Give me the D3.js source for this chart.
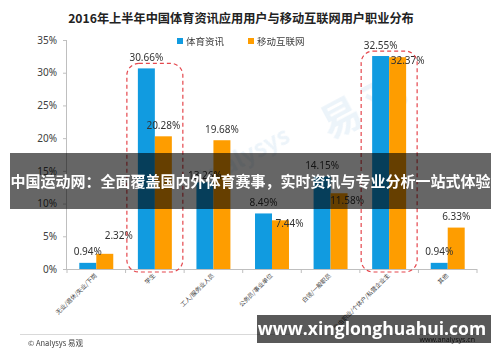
<!DOCTYPE html>
<html>
<head>
<meta charset="utf-8">
<script src="https://cdn.jsdelivr.net/npm/d3@7"></script>
<style>
  body { margin: 0; background: #fff; }
  svg { display: block; font-family: "Noto Sans", "Noto Sans CJK SC", sans-serif; }
</style>
</head>
<body>
<div id="chart"></div>
<script>
// data
const categories = ['无业/退休/失业/下岗', '学生', '工人/服务业人员', '公务员/事业单位', '白领/一般职员', '自由职业/个体户/私营企业主', '其他'];
const seriesNames = ['体育资讯', '移动互联网'];
const sportsNews = [0.94, 30.66, 13.26, 8.49, 14.15, 32.55, 0.94];
const mobileNet = [2.32, 20.28, 19.68, 7.44, 11.58, 32.37, 6.33];
const yTicks = [0, 5, 10, 15, 20, 25, 30, 35];
const highlighted = ['学生', '自由职业/个体户/私营企业主'];

// label nudges (layout only), [dx, dy] per bar
const blueNudge = [[0, 0], [0, 0], [0, 4], [0, 0], [0, 0], [0, 0], [0, 0]];
const orangeNudge = [[14, -7], [0, 0], [0, 0], [9, 14], [8, 18], [10, 14], [0, 0]];

const colors = ['#119be0', '#fe9d00'];
const W = 500, H = 362;

const svg = d3.select('#chart').append('svg')
    .attr('width', W).attr('height', H);

// title
svg.append('text')
    .attr('x', 241).attr('y', 22.5)
    .attr('text-anchor', 'middle')
    .attr('font-size', 12.2).attr('font-weight', 'bold')
    .attr('fill', '#222')
    .attr('font-family', '"Noto Sans CJK SC", sans-serif')
    .text('2016年上半年中国体育资讯应用用户与移动互联网用户职业分布');

// scales
const x0 = d3.scaleBand().domain(categories).range([67, 477])
    .paddingInner(0.42).paddingOuter(0.21);
const x1 = d3.scaleBand().domain(seriesNames).range([0, x0.bandwidth()]);
const y = d3.scaleLinear().domain([0, 35]).range([269, 40]);

// watermark
const wm = svg.append('g').attr('opacity', 0.22).attr('fill', '#a9cbe6')
    .attr('font-family', '"Noto Sans CJK SC", sans-serif');
wm.append('text').attr('transform', 'translate(330,140) rotate(-28)')
    .attr('font-size', 40).attr('font-weight', 'bold').text('易 观');
wm.append('text').attr('transform', 'translate(200,190) rotate(-28)')
    .attr('font-size', 24).attr('font-weight', 'bold').text('Analysys');

// y axis
const yAxis = svg.append('g')
    .attr('transform', `translate(${x0.range()[0]},0)`)
    .call(d3.axisLeft(y).tickValues(yTicks).tickSize(4).tickPadding(6)
        .tickFormat(d => d + '%'));
yAxis.selectAll('path, line').attr('stroke', '#bfbfbf');
yAxis.selectAll('text').attr('font-size', 10).attr('fill', '#404040')
    .attr('font-family', '"Noto Sans", sans-serif');
yAxis.select('.domain').attr('d', `M-0.5,${y(35)}V${y(0)}`);

// x axis with ticks at band boundaries
const step = x0.step();
const bounds = categories.map(c => x0(c) - step * x0.paddingInner() / 2);
bounds.push(x0.range()[1]);
const xAxis = svg.append('g');
xAxis.append('line')
    .attr('x1', x0.range()[0]).attr('x2', x0.range()[1])
    .attr('y1', y(0) + 0.5).attr('y2', y(0) + 0.5)
    .attr('stroke', '#bfbfbf');
xAxis.selectAll('.bt').data(bounds).join('line')
    .attr('x1', d => d).attr('x2', d => d)
    .attr('y1', y(0)).attr('y2', y(0) + 4)
    .attr('stroke', '#bfbfbf');
xAxis.selectAll('.xl').data(categories).join('text')
    .attr('transform', d => `translate(${x0(d) + x0.bandwidth() / 2 + 1},${y(0) + 7}) rotate(-45)`)
    .attr('text-anchor', 'end')
    .attr('font-size', 6).attr('fill', '#404040')
    .attr('font-family', '"Noto Sans CJK SC", sans-serif')
    .text(d => d);

// bars
const series = [sportsNews, mobileNet];
const nudges = [blueNudge, orangeNudge];
series.forEach((vals, si) => {
    const g = svg.append('g');
    g.selectAll('rect').data(vals).join('rect')
        .attr('x', (d, i) => x0(categories[i]) + x1(seriesNames[si]))
        .attr('y', d => y(d))
        .attr('width', x1.bandwidth())
        .attr('height', d => y(0) - y(d))
        .attr('fill', colors[si]);
});

// value labels
series.forEach((vals, si) => {
    svg.append('g').selectAll('text').data(vals).join('text')
        .attr('x', (d, i) => x0(categories[i]) + x1(seriesNames[si]) + x1.bandwidth() / 2 + nudges[si][i][0])
        .attr('y', (d, i) => y(d) - 7.5 + nudges[si][i][1])
        .attr('text-anchor', 'middle')
        .attr('font-size', 10).attr('fill', '#333')
        .text(d => d.toFixed(2) + '%');
});

// dashed highlight boxes
highlighted.forEach(c => {
    const i = categories.indexOf(c);
    const top = d3.max([sportsNews[i], mobileNet[i]]);
    svg.append('rect')
        .attr('x', x0(c) - 11).attr('y', y(top) - 5)
        .attr('width', x0.bandwidth() + 22)
        .attr('height', y(0) + 3 - (y(top) - 5))
        .attr('rx', 12)
        .attr('fill', 'none').attr('stroke', '#e5474d')
        .attr('stroke-width', 1.2).attr('stroke-dasharray', '4,3');
});

// legend
const legend = svg.append('g').attr('font-size', 9.5).attr('fill', '#404040')
    .attr('font-family', '"Noto Sans CJK SC", sans-serif');
const legendX = [177, 248];
seriesNames.forEach((name, i) => {
    legend.append('rect').attr('x', legendX[i]).attr('y', 38)
        .attr('width', 6).attr('height', 6).attr('fill', colors[i]);
    legend.append('text').attr('x', legendX[i] + 9).attr('y', 44.5).text(name);
});

// footer
svg.append('line').attr('x1', 20).attr('x2', 480).attr('y1', 334.5).attr('y2', 334.5)
    .attr('stroke', '#d9d9d9');
svg.append('text').attr('x', 28).attr('y', 346).attr('font-size', 7.5).attr('fill', '#404040')
    .attr('font-family', '"Noto Sans CJK SC", sans-serif')
    .text('© Analysys 易观');
svg.append('text').attr('x', 475).attr('y', 342).attr('text-anchor', 'end')
    .attr('font-size', 7).attr('fill', '#333').text('www.analysys.cn');

// overlay banners
svg.append('rect').attr('x', 10).attr('y', 153).attr('width', 481).attr('height', 56)
    .attr('fill', '#000').attr('opacity', 0.6);
svg.append('text').attr('x', 250.5).attr('y', 186.5)
    .attr('text-anchor', 'middle')
    .attr('font-size', 15).attr('font-weight', 'bold').attr('fill', '#fff')
    .attr('font-family', '"Noto Sans CJK SC", sans-serif')
    .text('中国运动网：全面覆盖国内外体育赛事，实时资讯与专业分析一站式体验');

svg.append('rect').attr('x', 257).attr('y', 315).attr('width', 234).attr('height', 28)
    .attr('fill', '#000').attr('opacity', 0.65);
svg.append('text').attr('x', 372).attr('y', 335)
    .attr('text-anchor', 'middle')
    .attr('font-size', 17.5).attr('font-weight', 'bold').attr('fill', '#fff')
    .attr('font-family', '"Open Sans", "Noto Sans", sans-serif')
    .text('www.xinglonghuahui.com');
</script>
</body>
</html>
